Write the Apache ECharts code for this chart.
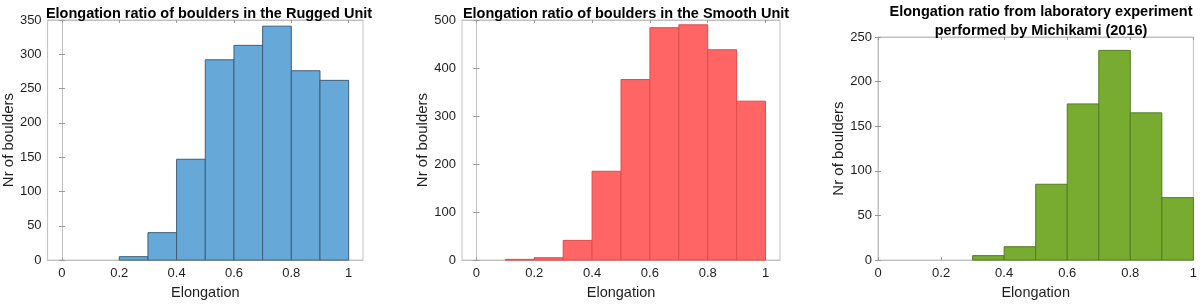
<!DOCTYPE html>
<html>
<head>
<meta charset="utf-8">
<script src="https://cdn.jsdelivr.net/npm/echarts@6/dist/echarts.min.js"></script>
<style>html,body{margin:0;padding:0;background:#fff;}#c{width:1200px;height:305px;}</style>
</head>
<body>
<div id="c"></div>
<script>
// Bin edges (Elongation) shared by all three histograms
const binEdges = [0, 0.1, 0.2, 0.3, 0.4, 0.5, 0.6, 0.7, 0.8, 0.9, 1.0];
// Counts per bin
const ruggedCounts = [0, 0, 5, 40, 147, 292, 313, 341, 276, 262];
const smoothCounts = [0, 1.5, 5, 41, 185, 376, 484, 490, 438, 331];
const labCounts    = [0, 0, 0, 5, 15, 85, 175, 235, 165, 70];
const xTicks = [0, 0.2, 0.4, 0.6, 0.8, 1];
const titles = [
  'Elongation ratio of boulders in the Rugged Unit',
  'Elongation ratio of boulders in the Smooth Unit',
  'Elongation ratio from laboratory experiment\nperformed by Michikami (2016)'
];
const yMax = [350, 500, 250];
const yInterval = [50, 100, 50];

const font = 'Liberation Sans, Arial, Helvetica, sans-serif';
const textCol = '#1f1f1f';
const boxCol = '#c0c0c0';

const grids = [
  {left: 45, top: 20, width: 318, height: 247},
  {left: 462, top: 20, width: 318, height: 247},
  {left: 878, top: 37, width: 318, height: 230}
];
const xRanges = [[-0.05, 1.05], [-0.05, 1.05], [0, 1]];
const fills = ['#66a9d9', '#ff6565', '#77ac30'];
const edges = ['#3f5f78', '#e04c4c', '#557d22'];
const allCounts = [ruggedCounts, smoothCounts, labCounts];

function binData(counts) {
  return counts.map((c, i) => [binEdges[i], binEdges[i + 1], c]).filter(d => d[2] > 0);
}

const xAxes = [], yAxes = [], series = [];
grids.forEach((g, i) => {
  g.show = true; g.borderColor = boxCol; g.borderWidth = 1; g.containLabel = false;
  xAxes.push({
    type: 'value', gridIndex: i, min: xRanges[i][0], max: xRanges[i][1],
    position: 'bottom',
    name: 'Elongation', nameLocation: 'middle', nameGap: 22,
    nameTextStyle: {fontFamily: font, fontSize: 14.5, color: textCol},
    axisLine: {show: true, onZero: false, lineStyle: {color: boxCol}},
    axisTick: {show: true, inside: true, length: 3, customValues: xTicks, lineStyle: {color: '#999'}},
    axisLabel: {customValues: xTicks, fontFamily: font, fontSize: 13, color: textCol, margin: 7,
      formatter: v => (Math.round(v * 10) / 10).toString()},
    splitLine: {show: false}
  });
  xAxes.push({
    type: 'value', gridIndex: i, min: xRanges[i][0], max: xRanges[i][1], position: 'top',
    axisLine: {show: true, onZero: false, lineStyle: {color: boxCol}},
    axisTick: {show: true, inside: true, length: 3, customValues: xTicks, lineStyle: {color: '#999'}},
    axisLabel: {show: false}, splitLine: {show: false}
  });
  yAxes.push({
    type: 'value', gridIndex: i, min: 0, max: yMax[i], interval: yInterval[i], position: 'left',
    name: 'Nr of boulders', nameLocation: 'middle', nameGap: 28,
    nameTextStyle: {fontFamily: font, fontSize: 15, color: textCol},
    axisLine: {show: true, lineStyle: {color: boxCol}},
    axisTick: {show: true, inside: true, length: 3, lineStyle: {color: '#999'}},
    axisLabel: {fontFamily: font, fontSize: 13, color: textCol, margin: 6},
    splitLine: {show: false}
  });
  yAxes.push({
    type: 'value', gridIndex: i, min: 0, max: yMax[i], interval: yInterval[i], position: 'right',
    axisLine: {show: true, lineStyle: {color: boxCol}},
    axisTick: {show: true, inside: true, length: 3, lineStyle: {color: '#999'}},
    axisLabel: {show: false}, splitLine: {show: false}
  });
  series.push({
    type: 'custom', xAxisIndex: i * 2, yAxisIndex: i * 2,
    data: binData(allCounts[i]),
    renderItem: (params, api) => {
      const p0 = api.coord([api.value(0), api.value(2)]);
      const p1 = api.coord([api.value(1), 0]);
      return {
        type: 'rect',
        shape: {x: p0[0], y: p0[1], width: p1[0] - p0[0], height: p1[1] - p0[1]},
        style: {fill: fills[i], stroke: edges[i], lineWidth: 1}
      };
    },
    encode: {x: [0, 1], y: 2}
  });
});

const titleOpts = [
  {text: titles[0], left: 204, top: -1, textAlign: 'center'},
  {text: titles[1], left: 621, top: -1, textAlign: 'center'},
  {text: titles[2], left: 1036, top: -3, textAlign: 'center'}
].map(t => Object.assign(t, {
  textStyle: {fontFamily: font, fontSize: 14.5, fontWeight: 'bold', color: '#000', lineHeight: 19}
}));

const chart = echarts.init(document.getElementById('c'), null, {renderer: 'canvas'});
chart.setOption({
  animation: false,
  backgroundColor: '#fff',
  title: titleOpts,
  grid: grids,
  xAxis: xAxes,
  yAxis: yAxes,
  series: series
});
</script>
</body>
</html>
